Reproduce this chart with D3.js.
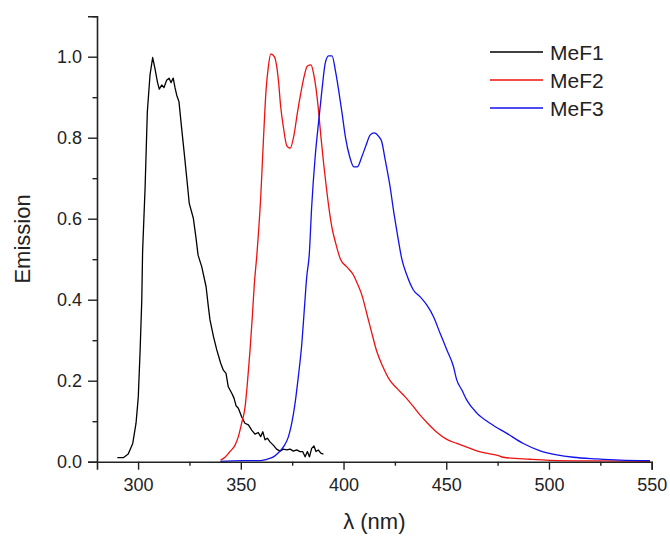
<!DOCTYPE html>
<html>
<head>
<meta charset="utf-8">
<script src="https://cdn.jsdelivr.net/npm/d3@7"></script>
<style>
  body { margin: 0; background: #fff; }
  svg text { font-family: Arial, "Liberation Sans", sans-serif; fill: #222; }
</style>
</head>
<body>
<div id="chart"></div>
<script>
// MeF1 emission (noisy trace)
var mef1Wl = [289.9, 292.8, 295.2, 297.4, 299.0, 300.1, 301.0, 301.8, 302.2, 303.4, 304.5, 305.8, 307.1, 308.2, 309.4, 310.3, 311.5, 312.6, 313.9, 315.1, 316.0, 317.1, 318.0, 318.8, 319.9, 321.2, 322.4, 323.7, 324.9, 326.9, 328.2, 329.2, 331.0, 333.1, 334.2, 335.0, 336.7, 338.3, 340.2, 341.5, 342.8, 343.9, 345.6, 346.7, 347.7, 348.8, 350.4, 352.0, 353.7, 355.3, 356.9, 358.5, 359.7, 360.7, 361.8, 362.9, 364.2, 365.8, 367.4, 369.1, 370.7, 372.4, 374.0, 375.6, 377.2, 378.8, 380.1, 381.3, 382.4, 383.4, 384.5, 385.6, 386.6, 387.7, 388.9, 390.2];
var mef1Em = [0.010, 0.010, 0.019, 0.045, 0.095, 0.16, 0.276, 0.40, 0.52, 0.675, 0.864, 0.955, 0.998, 0.971, 0.938, 0.92, 0.93, 0.924, 0.942, 0.947, 0.936, 0.947, 0.923, 0.905, 0.889, 0.823, 0.765, 0.70, 0.638, 0.601, 0.552, 0.51, 0.481, 0.432, 0.383, 0.35, 0.309, 0.276, 0.243, 0.226, 0.218, 0.185, 0.169, 0.157, 0.138, 0.132, 0.111, 0.095, 0.091, 0.078, 0.068, 0.072, 0.062, 0.074, 0.054, 0.058, 0.049, 0.041, 0.031, 0.026, 0.031, 0.029, 0.031, 0.026, 0.029, 0.025, 0.025, 0.012, 0.025, 0.012, 0.033, 0.039, 0.025, 0.029, 0.021, 0.019];

// MeF2 emission
var mef2Wl = [340.2, 342.3, 344.7, 347.2, 348.8, 350.4, 352.1, 353.2, 354.5, 355.6, 356.6, 357.8, 359.7, 361.0, 362.3, 363.4, 364.6, 366.3, 368.3, 369.4, 370.7, 372.4, 374.0, 375.9, 377.5, 379.2, 380.8, 382.4, 384.2, 385.4, 386.7, 387.8, 389.0, 390.3, 391.6, 392.8, 394.3, 396.2, 398.5, 401.6, 404.8, 406.7, 408.9, 411.3, 413.8, 416.2, 419.1, 422.4, 426.0, 430.0, 434.0, 437.3, 440.9, 445.1, 450.3, 455.1, 460.0, 464.9, 469.7, 475.4, 477.8, 490.8, 500.5, 523.3, 549.2];
var mef2Em = [0.004, 0.011, 0.025, 0.041, 0.062, 0.095, 0.136, 0.194, 0.276, 0.358, 0.44, 0.51, 0.654, 0.794, 0.918, 0.975, 1.007, 1.0, 0.942, 0.877, 0.827, 0.78, 0.774, 0.807, 0.86, 0.91, 0.951, 0.977, 0.98, 0.959, 0.918, 0.868, 0.802, 0.737, 0.679, 0.63, 0.58, 0.539, 0.50, 0.481, 0.461, 0.44, 0.412, 0.366, 0.317, 0.272, 0.235, 0.202, 0.181, 0.16, 0.136, 0.115, 0.095, 0.074, 0.055, 0.045, 0.036, 0.027, 0.021, 0.015, 0.011, 0.006, 0.0035, 0.002, 0.001];

// MeF3 emission
var mef3Wl = [340.0, 351.2, 359.4, 362.6, 365.9, 368.3, 370.8, 373.2, 374.8, 376.4, 378.0, 379.7, 380.9, 382.1, 383.3, 384.5, 386.2, 387.8, 389.5, 391.1, 392.7, 394.4, 396.0, 397.6, 399.3, 400.9, 403.0, 405.0, 406.7, 408.9, 411.0, 413.0, 414.9, 417.0, 418.6, 420.3, 422.4, 424.8, 426.4, 428.3, 430.8, 434.0, 437.3, 440.5, 443.8, 447.0, 450.3, 453.5, 455.1, 457.6, 460.0, 464.9, 471.3, 479.5, 487.5, 495.7, 503.8, 511.9, 523.3, 534.6, 549.2];
var mef3Em = [0.001, 0.0025, 0.0025, 0.006, 0.012, 0.022, 0.037, 0.062, 0.095, 0.144, 0.21, 0.292, 0.375, 0.457, 0.51, 0.63, 0.753, 0.836, 0.918, 0.984, 1.002, 1.002, 0.967, 0.918, 0.86, 0.802, 0.753, 0.728, 0.728, 0.753, 0.782, 0.807, 0.812, 0.804, 0.79, 0.745, 0.687, 0.605, 0.556, 0.502, 0.461, 0.424, 0.407, 0.387, 0.358, 0.317, 0.276, 0.235, 0.202, 0.177, 0.152, 0.12, 0.095, 0.07, 0.045, 0.027, 0.017, 0.011, 0.007, 0.004, 0.0025];

var seriesNames = ["MeF1", "MeF2", "MeF3"];
var seriesColors = ["#000000", "#ee1111", "#1111ee"];

var xMajor = [300, 350, 400, 450, 500, 550];
var xMinor = [325, 375, 425, 475, 525];
var yMajor = [0.0, 0.2, 0.4, 0.6, 0.8, 1.0];
var yMinor = [0.1, 0.3, 0.5, 0.7, 0.9, 1.1];

var width = 670, height = 536;
var margin = { top: 16.2, right: 18.3, bottom: 74.3, left: 97 };

var x = d3.scaleLinear().domain([280, 550]).range([margin.left, width - margin.right]);
var y = d3.scaleLinear().domain([0, 1.1]).range([height - margin.bottom, margin.top]);

var svg = d3.select("#chart").append("svg")
  .attr("width", width)
  .attr("height", height);

// curves
var series = [
  { wl: mef1Wl, em: mef1Em },
  { wl: mef2Wl, em: mef2Em },
  { wl: mef3Wl, em: mef3Em }
];

series.forEach(function (s, i) {
  var pts = s.wl.map(function (w, j) { return [w, s.em[j]]; });
  var line = d3.line()
    .x(function (d) { return x(d[0]); })
    .y(function (d) { return y(d[1]); })
    .curve(i === 0 ? d3.curveLinear : d3.curveMonotoneX);
  svg.append("path")
    .datum(pts)
    .attr("fill", "none")
    .attr("stroke", seriesColors[i])
    .attr("stroke-width", 1.3)
    .attr("stroke-linejoin", "round")
    .attr("d", line);
});

// axes
var xAxis = svg.append("g")
  .attr("transform", "translate(0," + y(0) + ")")
  .call(d3.axisBottom(x).tickValues(xMajor).tickFormat(d3.format("d")).tickSize(8).tickPadding(9));
var xAxisMinor = svg.append("g")
  .attr("transform", "translate(0," + y(0) + ")")
  .call(d3.axisBottom(x).tickValues(xMinor).tickFormat("").tickSize(4));

var yAxis = svg.append("g")
  .attr("transform", "translate(" + x(280) + ",0)")
  .call(d3.axisLeft(y).tickValues(yMajor).tickFormat(d3.format(".1f")).tickSize(9).tickPadding(6));
var yAxisMinor = svg.append("g")
  .attr("transform", "translate(" + x(280) + ",0)")
  .call(d3.axisLeft(y).tickValues(yMinor).tickFormat("").tickSize(4.5));

svg.selectAll(".domain").attr("stroke", "#222").attr("stroke-width", 1.6);
svg.selectAll(".tick line").attr("stroke", "#222").attr("stroke-width", 1.4);
svg.selectAll(".tick text").attr("font-size", 18).attr("fill", "#222");
xAxisMinor.select(".domain").remove();
yAxisMinor.select(".domain").remove();

// axis titles
svg.append("text")
  .attr("x", (x(280) + x(550)) / 2)
  .attr("y", 529)
  .attr("text-anchor", "middle")
  .attr("font-size", 22)
  .text("λ (nm)");

svg.append("text")
  .attr("transform", "translate(30," + ((y(0) + y(1.1)) / 2) + ") rotate(-90)")
  .attr("text-anchor", "middle")
  .attr("font-size", 22)
  .text("Emission");

// legend
var legend = svg.append("g");
seriesNames.forEach(function (name, i) {
  var ly = 52 + i * 28;
  legend.append("line")
    .attr("x1", 490).attr("x2", 543)
    .attr("y1", ly).attr("y2", ly)
    .attr("stroke", seriesColors[i])
    .attr("stroke-width", 1.3);
  legend.append("text")
    .attr("x", 550)
    .attr("y", ly + 7.5)
    .attr("font-size", 21)
    .text(name);
});
</script>
</body>
</html>
